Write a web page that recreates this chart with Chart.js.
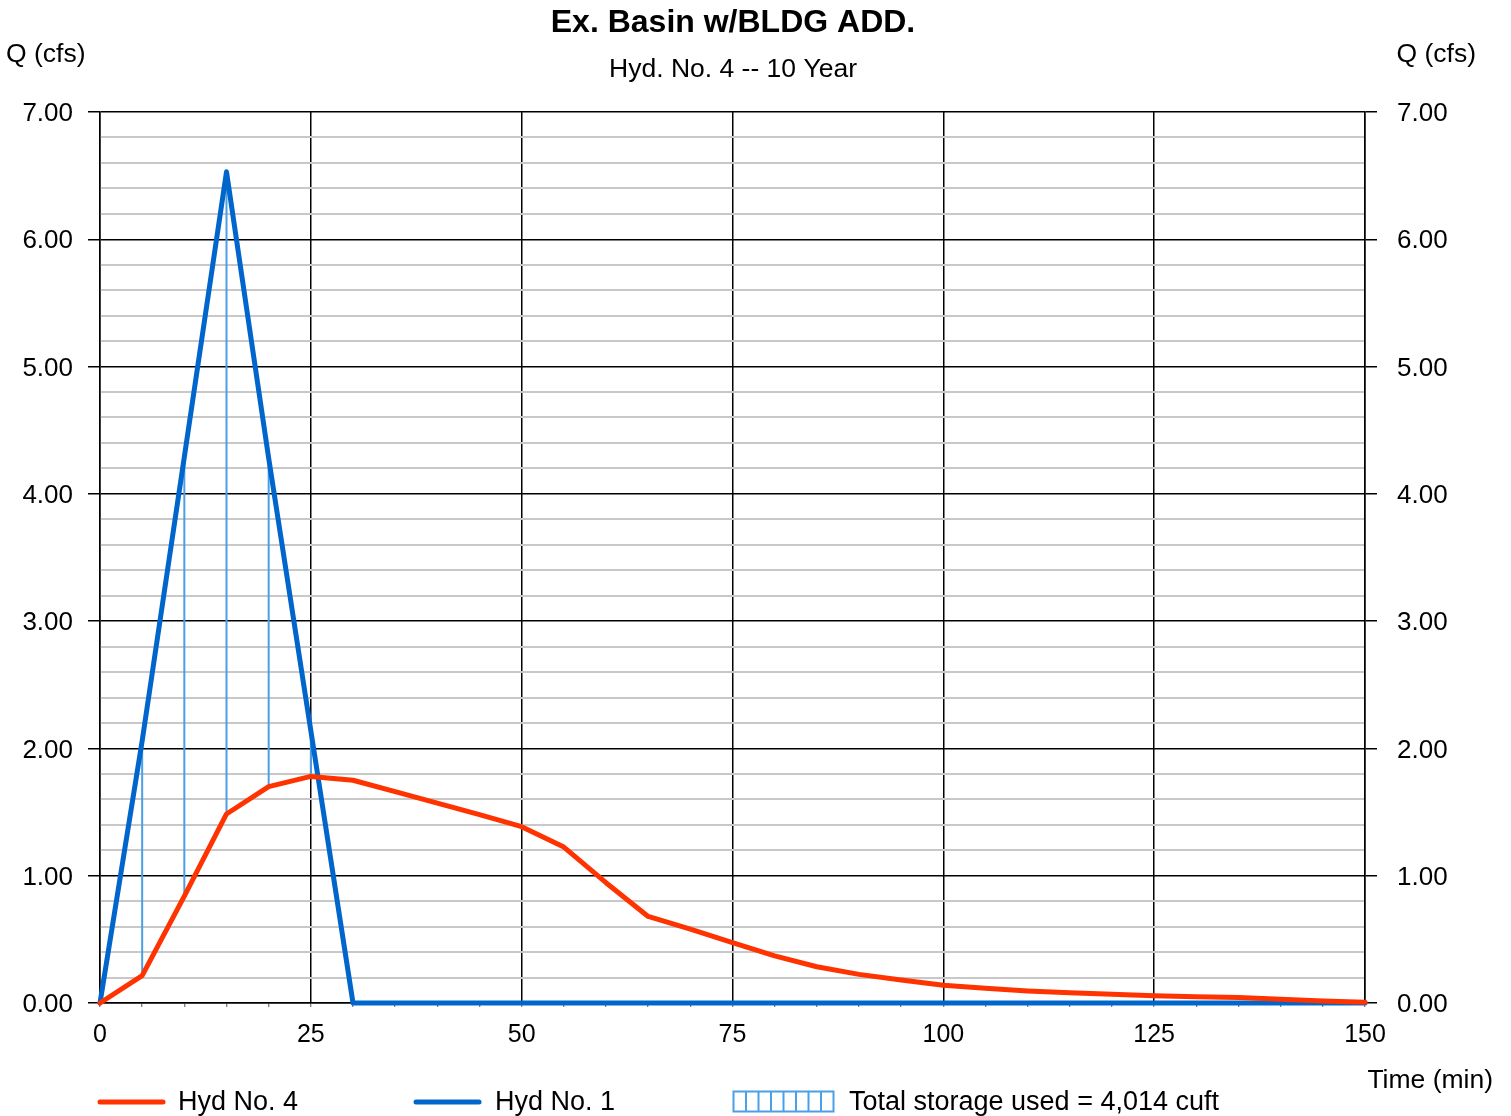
<!DOCTYPE html>
<html><head><meta charset="utf-8">
<script src="https://cdn.jsdelivr.net/npm/chart.js@4/dist/chart.umd.min.js"></script>
<style>html,body{margin:0;padding:0;background:#fff}</style>
</head><body>
<canvas id="c" width="1511" height="1116"></canvas>
<script>
// ---- data ----
const timeMin = [0,5,10,15,20,25,30,35,40,45,50,55,60,65,70,75,80,85,90,95,100,105,110,115,120,125,130,135,140,145,150];
const hyd4 = [0,0.215,0.84,1.485,1.70,1.78,1.75,1.66,1.57,1.48,1.385,1.225,0.945,0.68,0.58,0.475,0.37,0.285,0.225,0.18,0.14,0.115,0.095,0.08,0.068,0.057,0.05,0.043,0.03,0.015,0.005];
const hyd1 = [0,2.06,4.29,6.53,4.28,2.14,0,0,0,0,0,0,0,0,0,0,0,0,0,0,0,0,0,0,0,0,0,0,0,0,0];
const xTickLabels = [0,25,50,75,100,125,150];
const yTickLabels = ['0.00','1.00','2.00','3.00','4.00','5.00','6.00','7.00'];
const titleText = 'Ex. Basin w/BLDG ADD.';
const subtitleText = 'Hyd. No. 4 -- 10 Year';
const legendLabels = ['Hyd No. 4','Hyd No. 1','Total storage used = 4,014 cuft'];

// storage hatch segments built from the two series
const hatch = [];
timeMin.forEach((t,i)=>{
  if (t>0 && hyd1[i] > hyd4[i]) {
    hatch.push({x:t,y:hyd4[i]},{x:t,y:hyd1[i]},{x:t,y:null});
  }
});

const FONT = "'Liberation Sans', Arial, Helvetica, sans-serif";
const RED = '#ff3300', BLUE = '#0066cc', HATCH = '#4aa0e6';
Chart.defaults.font.family = FONT;
Chart.defaults.color = '#000';

const isMajorY = v => Math.abs(v - Math.round(v)) < 1e-6;
const yScaleCommon = (pos, pad, width) => ({
  type:'linear', position:pos, min:0, max:7,
  ticks:{stepSize:0.2, autoSkip:false, padding:pad, labelOffset:2, font:{size:26}, color:'#000',
    callback:v => isMajorY(v) ? yTickLabels[Math.round(v)] : ''},
  grid:{
    drawOnChartArea: pos==='left',
    color: c => isMajorY(c.tick.value) ? '#000' : '#c8c8c8',
    lineWidth: c => isMajorY(c.tick.value) ? 1.5 : 2,
    tickColor: c => isMajorY(c.tick.value) ? '#000' : 'rgba(0,0,0,0)',
    tickLength: 12, tickWidth:1.5
  },
  border:{display:true,color:'#000',width:1.5},
  afterFit: s => { s.width = width; }
});

const textPlugin = {
  id:'texts',
  afterDraw(chart){
    const c = chart.ctx;
    c.save();
    c.fillStyle = '#000';
    c.textBaseline = 'middle';
    c.textAlign = 'center';
    c.font = 'bold 32px ' + FONT;
    c.fillText(titleText, 733, 23);
    c.font = '26.5px ' + FONT;
    c.fillText(subtitleText, 733, 70);
    c.textAlign = 'left';
    c.fillText('Q (cfs)', 6, 55);
    c.textAlign = 'right';
    c.fillText('Q (cfs)', 1476, 55);
    c.fillText('Time (min)', 1493, 1081);
    // legend
    const ly = 1102;
    c.lineCap = 'round';
    c.lineWidth = 5;
    c.strokeStyle = RED;
    c.beginPath(); c.moveTo(100,ly); c.lineTo(163,ly); c.stroke();
    c.strokeStyle = BLUE;
    c.beginPath(); c.moveTo(416,ly); c.lineTo(479,ly); c.stroke();
    c.lineCap = 'butt';
    c.strokeStyle = HATCH; c.lineWidth = 2;
    c.strokeRect(733.5,1091.5,100,20);
    for (let k=1;k<8;k++){ const xx = 733.5 + k*12.5; c.beginPath(); c.moveTo(xx,1091.5); c.lineTo(xx,1111.5); c.stroke(); }
    c.font = '27px ' + FONT;
    c.textAlign = 'left';
    c.fillText(legendLabels[0], 178, ly+1);
    c.fillText(legendLabels[1], 495, ly+1);
    c.fillText(legendLabels[2], 849, ly+1);
    c.restore();
  }
};

new Chart(document.getElementById('c'), {
  type:'line',
  data:{datasets:[
    {label:legendLabels[0], data:timeMin.map((t,i)=>({x:t,y:hyd4[i]})), borderColor:RED, borderWidth:5, pointRadius:0, tension:0, order:0, clip:false, borderJoinStyle:'round', borderCapStyle:'round'},
    {label:legendLabels[1], data:timeMin.map((t,i)=>({x:t,y:hyd1[i]})), borderColor:BLUE, borderWidth:5, pointRadius:0, tension:0, order:1, clip:false, borderJoinStyle:'round', borderCapStyle:'round'},
    {label:legendLabels[2], data:hatch, borderColor:HATCH, borderWidth:2, pointRadius:0, tension:0, spanGaps:false, order:2}
  ]},
  options:{
    responsive:false, animation:false, devicePixelRatio:1,
    layout:{padding:{top:112,left:0,right:0,bottom:0}},
    plugins:{legend:{display:false}, title:{display:false}, tooltip:{enabled:false}},
    scales:{
      x:{type:'linear', min:0, max:150,
        ticks:{stepSize:5, autoSkip:false, maxRotation:0, padding:13, font:{size:25}, color:'#000',
          callback:v => xTickLabels.includes(v) ? String(v) : ''},
        grid:{color:c => xTickLabels.includes(c.tick.value) ? '#000' : 'rgba(0,0,0,0)', lineWidth:1.5,
          tickColor:'#555', tickLength:4, tickWidth:1},
        border:{display:true,color:'#000',width:1.5},
        afterFit: s => { s.height = 113; }
      },
      y: yScaleCommon('left', 15, 100),
      y2: yScaleCommon('right', 20, 146)
    }
  },
  plugins:[textPlugin]
});
</script>
</body></html>
